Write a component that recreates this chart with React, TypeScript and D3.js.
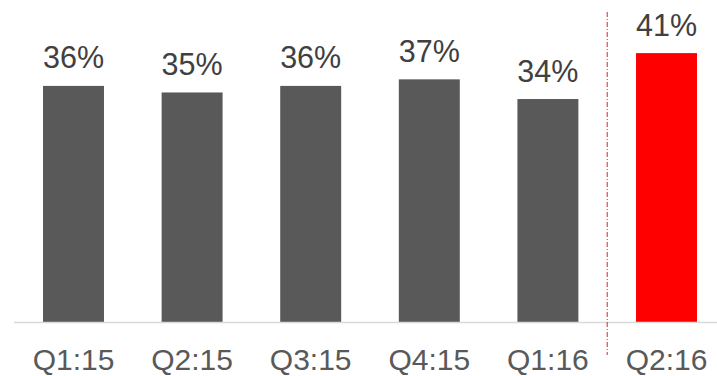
import React from "react";
import * as d3 from "d3";

const categories = ["Q1:15", "Q2:15", "Q3:15", "Q4:15", "Q1:16", "Q2:16"];
const values = [36, 35, 36, 37, 34, 41];
const highlight = [false, false, false, false, false, true];

const W = 717;
const H = 376;
const baseY = 322;

export default function App() {
  const x = d3
    .scaleBand<string>()
    .domain(categories)
    .range([14.2, 725.8])
    .paddingInner(0.486)
    .paddingOuter(0.243);
  const y = d3.scaleLinear().domain([0, 49.1]).range([baseY, 0]);
  const bw = x.bandwidth();
  const sepX =
    ((x(categories[4]) as number) + bw / 2 + (x(categories[5]) as number) + bw / 2) / 2;

  return (
    <svg
      width={W}
      height={H}
      style={{ position: "absolute", left: 0, top: 0, background: "#fff" }}
      fontFamily="'Liberation Sans', Arial, sans-serif"
    >
      {categories.map((c, i) => (
        <g key={c}>
          <rect
            x={x(c)}
            y={y(values[i])}
            width={bw}
            height={baseY - y(values[i])}
            fill={highlight[i] ? "#ff0000" : "#595959"}
          />
          <text
            x={(x(c) as number) + bw / 2}
            y={y(values[i]) - 17.5}
            textAnchor="middle"
            fontSize={30.5}
            fill="#404040"
          >
            {values[i]}%
          </text>
          <text
            x={(x(c) as number) + bw / 2}
            y={370}
            textAnchor="middle"
            fontSize={30}
            fill="#595959"
          >
            {c}
          </text>
        </g>
      ))}
      <line x1={14} x2={717} y1={baseY + 0.5} y2={baseY + 0.5} stroke="#d9d9d9" strokeWidth={1.5} />
      <line
        x1={sepX}
        x2={sepX}
        y1={12}
        y2={355}
        stroke="#e02020"
        strokeWidth={1}
        strokeDasharray="5 2 1 2"
      />
    </svg>
  );
}
